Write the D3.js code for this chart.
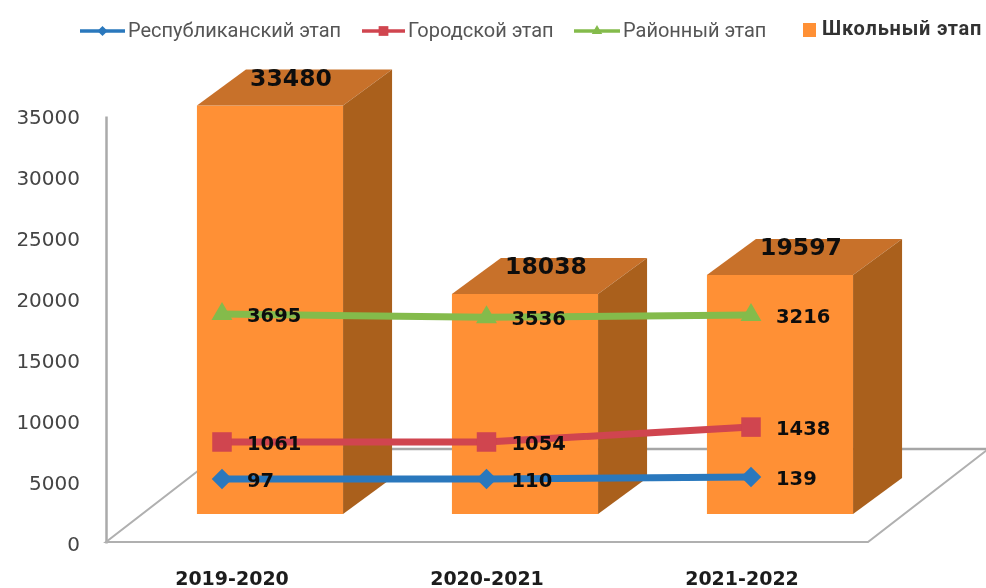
<!DOCTYPE html>
<html lang="ru">

<head>
    <meta charset="UTF-8">
    <title>Этапы олимпиады</title>
    <script src="https://d3js.org/d3.v7.min.js"></script>
    <style>
        html, body {
            margin: 0;
            padding: 0;
            background: #fff;
        }

        svg {
            display: block;
        }

        .axis text {
            font-family: "DejaVu Sans", sans-serif;
            font-size: 20px;
            fill: #444;
        }

        .axis path {
            stroke: #aaa;
            stroke-width: 2.5;
        }

        .category {
            font-family: "DejaVu Sans", sans-serif;
            font-weight: bold;
            font-size: 19px;
            fill: #1c1c1c;
            text-anchor: middle;
        }

        .value {
            font-family: "DejaVu Sans", sans-serif;
            font-weight: bold;
            fill: #111;
        }

        .legend text {
            font-family: Roboto, sans-serif;
            font-size: 20px;
            fill: #555;
        }
    </style>
</head>

<body>
    <div id="chart"></div>

    <script>
        var categories = ["2019-2020", "2020-2021", "2021-2022"];
        var yTicks = [0, 5000, 10000, 15000, 20000, 25000, 30000, 35000];

        // school stage, the only series that really follows the axis
        var schoolValues = [33480, 18038, 19597];

        // printed labels of the three line series
        var republicLabels = [97, 110, 139];
        var cityLabels = [1061, 1054, 1438];
        var districtLabels = [3695, 3536, 3216];

        // the lines do not sit at their printed numbers, these are the heights read against the axis
        var republicLevels = [5250, 5250, 5400];
        var cityLevels = [8280, 8280, 9500];
        var districtLevels = [18770, 18500, 18690];

        var seriesNames = ["Республиканский этап", "Городской этап", "Районный этап", "Школьный этап"];

        var width = 986, height = 588;
        var depthX = 49, depthY = 36;
        var floorX = 119, floorY = 92;
        var barDrop = 29; // bars stand in front of the axis zero

        var svg = d3.select("#chart")
            .append("svg")
            .attr("width", width)
            .attr("height", height);

        svg.append("defs").append("filter")
            .attr("id", "soft")
            .append("feGaussianBlur")
            .attr("stdDeviation", 0.45);

        var root = svg.append("g").attr("filter", "url(#soft)");

        var x = d3.scaleBand()
            .domain(categories)
            .range([142.5, 907.5])
            .paddingInner(0.427)
            .paddingOuter(0.2135);

        // the line points are spaced a bit wider than the columns
        var xLine = d3.scalePoint()
            .domain(categories)
            .range([222, 751]);

        var y = d3.scaleLinear()
            .domain([0, 35000])
            .range([543, 116]);

        var axis = root.append("g")
            .attr("class", "axis")
            .attr("transform", "translate(106,0)")
            .call(d3.axisLeft(y).tickValues(yTicks).tickSize(0).tickPadding(26).tickFormat(d3.format("d")));

        axis.selectAll("text").attr("dy", "0.38em");

        // floor of the 3d plot
        var y0 = y(0) - 1;
        var x0 = 106, x1 = 868;
        root.append("path")
            .attr("d", d3.line()([[x0 + floorX, y0 - floorY - 1], [x1 + floorX, y0 - floorY - 1]]))
            .attr("stroke", "#a6a6a6").attr("stroke-width", 2.5).attr("fill", "none");
        root.append("path")
            .attr("d", d3.line()([[x0 + floorX, y0 - floorY], [x0, y0], [x1, y0], [x1 + floorX, y0 - floorY]]))
            .attr("stroke", "#b0b0b0").attr("stroke-width", 2).attr("fill", "none");

        var bars = root.selectAll(".bar")
            .data(schoolValues)
            .enter()
            .append("g")
            .attr("class", "bar");

        function barTop(d) { return y(d) - barDrop; }
        function barLeft(i) { return x(categories[i]); }
        var barBottom = y(0) - barDrop;

        bars.append("rect")
            .attr("x", function (d, i) { return barLeft(i); })
            .attr("y", barTop)
            .attr("width", x.bandwidth())
            .attr("height", function (d) { return barBottom - barTop(d); })
            .attr("fill", "#ff9035");

        bars.append("path")
            .attr("fill", "#c8712b")
            .attr("d", function (d, i) {
                var l = barLeft(i), r = l + x.bandwidth(), t = barTop(d);
                return d3.line()([[l, t], [l + depthX, t - depthY], [r + depthX, t - depthY], [r, t]]) + "Z";
            });

        bars.append("path")
            .attr("fill", "#aa611f")
            .attr("d", function (d, i) {
                var r = barLeft(i) + x.bandwidth(), t = barTop(d);
                return d3.line()([[r, t], [r + depthX, t - depthY], [r + depthX, barBottom - depthY], [r, barBottom]]) + "Z";
            });

        bars.append("text")
            .attr("class", "value")
            .attr("x", function (d, i) { return barLeft(i) + x.bandwidth() / 2 + 21; })
            .attr("y", function (d) { return barTop(d) - 28; })
            .attr("dy", "0.36em")
            .attr("text-anchor", "middle")
            .style("font-size", "23.5px")
            .text(function (d) { return d; });

        var lines = [
            { name: seriesNames[0], levels: republicLevels, labels: republicLabels, color: "#2a78bd", symbol: "diamond" },
            { name: seriesNames[1], levels: cityLevels, labels: cityLabels, color: "#d0444f", symbol: "square" },
            { name: seriesNames[2], levels: districtLevels, labels: districtLabels, color: "#84bb4c", symbol: "triangle" }
        ];

        var lineGen = d3.line()
            .x(function (d, i) { return xLine(categories[i]); })
            .y(function (d) { return y(d); });

        function marker(sel, type, scale) {
            var s = scale || 1;
            if (type === "square") {
                sel.attr("d", d3.symbol().type(d3.symbolSquare).size(380 * s * s)());
            } else if (type === "diamond") {
                sel.attr("d", d3.symbol().type(d3.symbolSquare).size(210 * s * s)())
                    .attr("transform", function () { return d3.select(this).attr("transform") + " rotate(45)"; });
            } else {
                sel.attr("d", d3.symbol().type(d3.symbolTriangle).size(190 * s * s)());
            }
        }

        lines.forEach(function (s) {
            var g = root.append("g");

            g.append("path")
                .attr("d", lineGen(s.levels))
                .attr("fill", "none")
                .attr("stroke", s.color)
                .attr("stroke-width", 7);

            s.levels.forEach(function (v, i) {
                var px = xLine(categories[i]);

                g.append("path")
                    .attr("fill", s.color)
                    .attr("transform", "translate(" + px + "," + y(v) + ")")
                    .call(marker, s.symbol);

                g.append("text")
                    .attr("class", "value")
                    .attr("x", px + 25)
                    .attr("y", y(v) + 1)
                    .attr("dy", "0.36em")
                    .style("font-size", "19.5px")
                    .text(s.labels[i]);
            });
        });

        root.selectAll(".category")
            .data(categories)
            .enter()
            .append("text")
            .attr("class", "category")
            .attr("x", function (d) { return x(d) + x.bandwidth() / 2 - 38; })
            .attr("y", 585)
            .text(function (d) { return d; });

        // legend
        var legend = root.append("g").attr("class", "legend");
        var legendLines = [
            { x1: 80, x2: 125, tx: 128 },
            { x1: 362, x2: 405, tx: 408 },
            { x1: 574, x2: 620, tx: 623 }
        ];

        legendLines.forEach(function (p, i) {
            legend.append("line")
                .attr("x1", p.x1).attr("x2", p.x2)
                .attr("y1", 31).attr("y2", 31)
                .attr("stroke", lines[i].color)
                .attr("stroke-width", 3.5);
            legend.append("path")
                .attr("fill", lines[i].color)
                .attr("transform", "translate(" + (p.x1 + p.x2) / 2 + ",31)")
                .call(marker, lines[i].symbol, 0.5);
            legend.append("text")
                .attr("x", p.tx).attr("y", 37)
                .text(seriesNames[i]);
        });

        legend.append("rect")
            .attr("x", 803).attr("y", 23)
            .attr("width", 13).attr("height", 14)
            .attr("fill", "#ff9035");
        legend.append("text")
            .attr("x", 822).attr("y", 35)
            .style("font-weight", "bold")
            .style("fill", "#333")
            .style("letter-spacing", "0.8px")
            .text(seriesNames[3]);
    </script>
</body>

</html>
